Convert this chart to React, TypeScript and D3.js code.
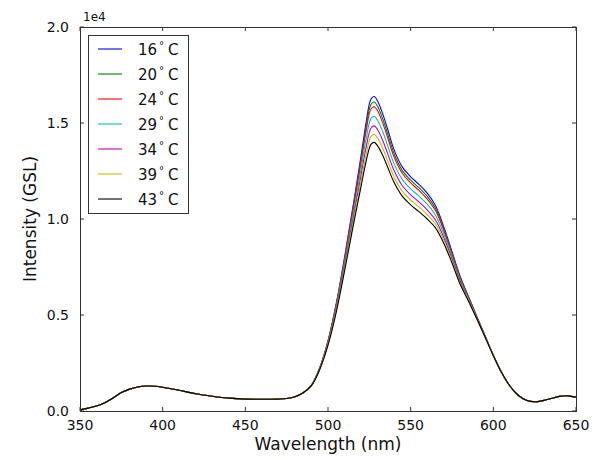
import React from 'react';
import * as d3 from 'd3';

const wavelengths = [350,355,360,365,370,375,380,385,390,395,400,405,410,420,430,440,450,460,470,475,480,485,
  490,495,500,505,510,515,520,523,526,528,530,533,536,540,545,550,555,560,565,570,575,580,585,590,595,600,
  605,610,615,620,625,630,635,640,645,650];

const t16 = [60,150,260,430,680,960,1140,1250,1300,1290,1240,1160,1080,900,770,670,620,610,620,650,740,950,
  1350,2250,3650,5600,8000,10600,13300,15000,16250,16380,16150,15500,14700,13600,12700,12200,11800,11350,10700,9600,8300,7000,5950,4930,3920,2910,
  2000,1300,820,560,480,540,650,760,790,720];
const t20 = [60,150,260,430,680,960,1140,1250,1300,1290,1240,1160,1080,900,770,670,620,610,620,650,740,950,
  1350,2240,3620,5550,7910,10470,13110,14760,15970,16090,15870,15240,14460,13400,12520,12020,11630,11180,10560,9500,8230,6950,5920,4910,3910,2900,
  2000,1300,820,560,480,540,650,760,790,720];
const t24 = [60,150,260,430,680,960,1140,1250,1300,1290,1240,1160,1080,900,770,670,620,610,620,650,740,950,
  1340,2230,3600,5500,7840,10370,12950,14560,15730,15850,15640,15020,14260,13230,12370,11880,11490,11040,10440,9410,8160,6900,5890,4890,3900,2900,
  2000,1300,820,560,480,540,650,760,790,720];
const t29 = [60,150,260,430,680,960,1140,1250,1300,1290,1240,1160,1080,900,770,670,620,610,620,650,740,950,
  1340,2210,3560,5410,7690,10140,12610,14130,15240,15350,15140,14570,13850,12870,12050,11570,11190,10770,10200,9230,8040,6810,5840,4860,3880,2890,
  2000,1300,820,560,480,540,650,760,790,720];
const t34 = [60,150,260,430,680,960,1140,1250,1300,1290,1240,1160,1080,900,770,670,620,610,620,650,740,950,
  1330,2190,3510,5310,7540,9920,12280,13700,14740,14850,14650,14110,13430,12510,11730,11260,10890,10480,9950,9050,7920,6730,5790,4840,3870,2890,
  2000,1300,820,560,480,540,650,760,790,720];
const t39 = [60,150,260,430,680,960,1140,1250,1300,1290,1240,1160,1080,900,770,670,620,610,620,650,740,950,
  1330,2180,3470,5230,7400,9720,11980,13320,14300,14400,14210,13700,13050,12190,11440,10990,10630,10230,9740,8900,7810,6660,5750,4820,3860,2890,
  2000,1300,820,560,480,540,650,760,790,720];
const t43 = [60,150,260,430,680,960,1140,1250,1300,1290,1240,1160,1080,900,770,670,620,610,620,650,740,950,
  1320,2160,3430,5150,7280,9540,11700,12980,13890,13990,13810,13330,12720,11900,11180,10740,10380,10000,9540,8740,7710,6590,5720,4800,3850,2880,
  2000,1300,820,560,480,540,650,760,790,720];

const seriesValues = [t16, t20, t24, t29, t34, t39, t43];
const seriesLabels = ['16', '20', '24', '29', '34', '39', '43'];
const seriesColors = ['#0000ff', '#008000', '#ff0000', '#00bfbf', '#bf00bf', '#bfbf00', '#000000'];

const xTicks = [350, 400, 450, 500, 550, 600, 650];
const yTicks = [0, 5000, 10000, 15000, 20000];
const yTickLabels = ['0.0', '0.5', '1.0', '1.5', '2.0'];

const W = 601, H = 460;
const L = 80, R = 576, T = 27, B = 411;
const FONT = 'DejaVu Sans, sans-serif';

export default function App() {
  const x = d3.scaleLinear().domain([350, 650]).range([L, R]);
  const y = d3.scaleLinear().domain([0, 20000]).range([B, T]);
  const line = d3.line<number>()
    .x((_, i) => x(wavelengths[i]))
    .y((d) => y(d))
    .curve(d3.curveCatmullRom.alpha(0.5));

  const legX = 88, legY = 35, legW = 100, legH = 178;
  return (
    <svg width={W} height={H} style={{ position: 'absolute', left: 0, top: 0, background: '#fff' }}
      fontFamily={FONT}>
      <rect x={0} y={0} width={W} height={H} fill="#fff" />
      <defs>
        <clipPath id="plotclip"><rect x={L} y={T} width={R - L} height={B - T} /></clipPath>
      </defs>
      <g clipPath="url(#plotclip)">
        {seriesValues.map((vals, k) => (
          <path key={k} d={line(vals) || ''} fill="none" stroke={seriesColors[k]} strokeWidth={1.1} />
        ))}
      </g>
      <rect x={L + 0.5} y={T + 0.5} width={R - L} height={B - T} fill="none" stroke="#333" strokeWidth={1} />
      {xTicks.map((t) => (
        <g key={'x' + t}>
          <line x1={x(t)} x2={x(t)} y1={B} y2={B - 4} stroke="#333" />
          <line x1={x(t)} x2={x(t)} y1={T} y2={T + 4} stroke="#333" />
          <text x={x(t)} y={B + 19} fontSize={14} textAnchor="middle" fill="#111">{t}</text>
        </g>
      ))}
      {yTicks.map((t, i) => (
        <g key={'y' + t}>
          <line x1={L} x2={L + 4} y1={y(t)} y2={y(t)} stroke="#333" />
          <line x1={R} x2={R - 4} y1={y(t)} y2={y(t)} stroke="#333" />
          <text x={L - 11} y={y(t) + 5} fontSize={14} textAnchor="end" fill="#111">{yTickLabels[i]}</text>
        </g>
      ))}
      <text x={L + 3} y={T - 6} fontSize={12} fill="#111">1e4</text>
      <text x={(L + R) / 2} y={450} fontSize={17} textAnchor="middle" fill="#111">Wavelength (nm)</text>
      <text transform={`translate(36,${(T + B) / 2}) rotate(-90)`} fontSize={17} textAnchor="middle" fill="#111">Intensity (GSL)</text>
      <rect x={legX + 0.5} y={legY + 0.5} width={legW} height={legH} fill="#fff" stroke="#333" />
      {seriesLabels.map((lab, k) => {
        const cy = legY + 14 + k * 25;
        return (
          <g key={'l' + k}>
            <line x1={98} x2={122} y1={cy} y2={cy} stroke={seriesColors[k]} strokeWidth={1.1} />
            <text x={138} y={cy + 5.5} fontSize={15} fill="#111">
              {lab}
              <tspan dx={2} dy={-6} fontSize={10}>°</tspan>
              <tspan dx={4} dy={6}>C</tspan>
            </text>
          </g>
        );
      })}
    </svg>
  );
}
